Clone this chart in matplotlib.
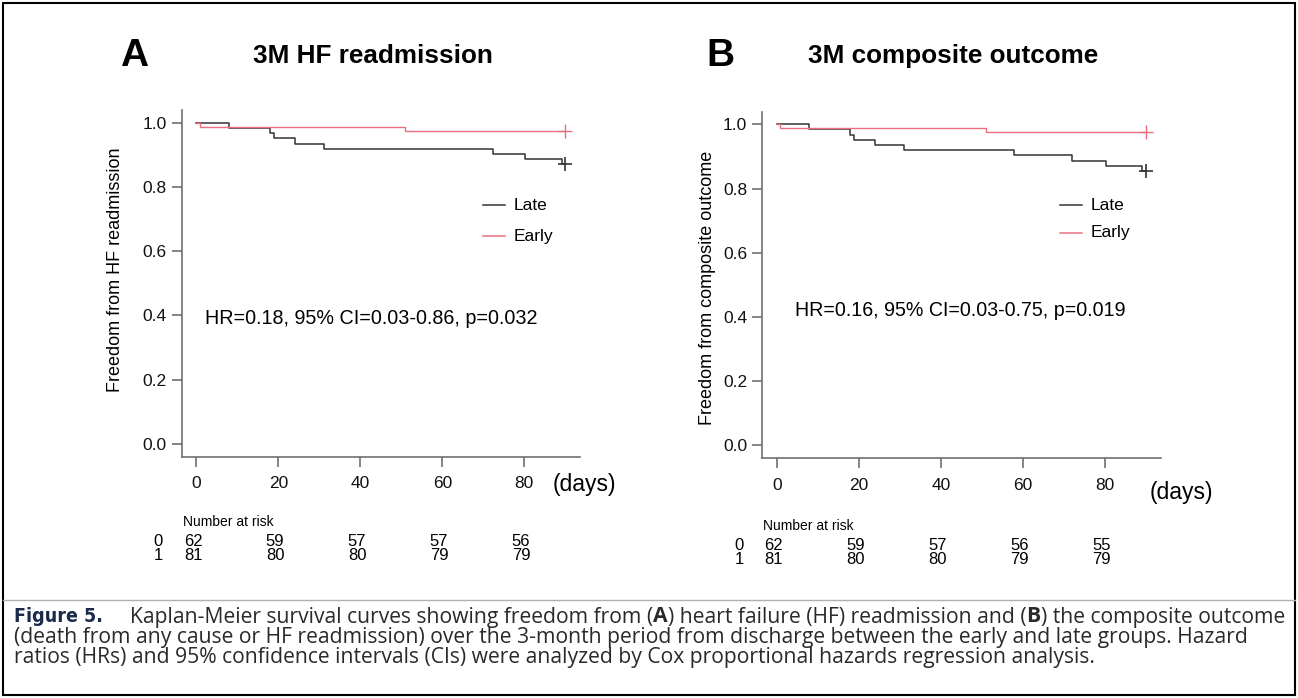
import matplotlib
matplotlib.use('Agg')
import matplotlib.pyplot as plt
from matplotlib.lines import Line2D
from matplotlib.patches import Rectangle
import matplotlib.transforms as mtransforms

plt.rcParams['font.family'] = ['Liberation Sans', 'DejaVu Sans']

# ---- data ----
a_late_t = [0, 8.0, 17.9, 18.9, 24.0, 31.1, 72.3, 80.2, 89.1, 90]
a_late_s = [1.0, 0.984, 0.968, 0.952, 0.935, 0.919, 0.903, 0.887, 0.871, 0.871]
a_early_t = [0, 0.8, 51.0, 90]
a_early_s = [1.0, 0.988, 0.975, 0.975]

b_late_t = [0, 7.8, 17.8, 18.7, 23.9, 30.9, 57.9, 72.1, 80.3, 89.1, 90]
b_late_s = [1.0, 0.984, 0.968, 0.952, 0.935, 0.919, 0.903, 0.887, 0.871, 0.855, 0.855]
b_early_t = [0, 0.8, 50.9, 90]
b_early_s = [1.0, 0.988, 0.975, 0.975]

risk_days = [0, 20, 40, 60, 80]
a_risk_late = [62, 59, 57, 57, 56]
a_risk_early = [81, 80, 80, 79, 79]
b_risk_late = [62, 59, 57, 56, 55]
b_risk_early = [81, 80, 80, 79, 79]

x_ticks = [0, 20, 40, 60, 80]
y_ticks = [0.0, 0.2, 0.4, 0.6, 0.8, 1.0]

W, H = 1298, 698
LATE = '#333333'
EARLY = '#e8707e'
AXC = '#707070'

fig = plt.figure(figsize=(W / 100, H / 100), dpi=100)


def fx(px):
    return px / W


def fy(py):
    return 1 - py / H


def km_panel(left, axis_y, late_t, late_s, early_t, early_s):
    ax = fig.add_axes([fx(left), fy(axis_y), 398.3 / W, 346.8 / H])
    ax.step(late_t, late_s, where='post', color=LATE, lw=1.1)
    ax.step(early_t, early_s, where='post', color=EARLY, lw=1.0)
    ax.plot(late_t[-1], late_s[-1], marker='+', ms=10, mew=1.2, color=LATE)
    ax.plot(early_t[-1], early_s[-1], marker='+', ms=10, mew=1.0, color=EARLY)
    ax.set_xlim(-3.6, 93.6)
    ax.set_ylim(-0.04, 1.04)
    ax.set_xticks(x_ticks)
    ax.set_yticks(y_ticks)
    ax.set_yticklabels([f'{v:.1f}' for v in y_ticks])
    for s in ['top', 'right']:
        ax.spines[s].set_visible(False)
    for s in ['left', 'bottom']:
        ax.spines[s].set_color(AXC)
        ax.spines[s].set_linewidth(1.2)
    ax.tick_params(axis='both', colors=AXC, labelcolor='#111111',
                   length=7, width=1.2, labelsize=12.5)
    ax.tick_params(axis='x', pad=7)
    ax.tick_params(axis='y', pad=4)
    return ax


axA = km_panel(181.7, 456.7, a_late_t, a_late_s, a_early_t, a_early_s)
axB = km_panel(762.3, 458.3, b_late_t, b_late_s, b_early_t, b_early_s)

# panel letters and titles
fig.text(fx(134), fy(56), 'A', fontsize=28, weight='bold', ha='center', va='center')
fig.text(fx(373), fy(56), '3M HF readmission', fontsize=18.8, weight='bold', ha='center', va='center')
fig.text(fx(720), fy(56), 'B', fontsize=28, weight='bold', ha='center', va='center')
fig.text(fx(953), fy(56), '3M composite outcome', fontsize=18.8, weight='bold', ha='center', va='center')

# y labels
fig.text(fx(116), fy(270), 'Freedom from HF readmission', rotation=90, fontsize=13,
         ha='center', va='center')
fig.text(fx(708), fy(288), 'Freedom from composite outcome', rotation=90, fontsize=13,
         ha='center', va='center')

# (days)
fig.text(fx(553), fy(485), '(days)', fontsize=16.5, ha='left', va='center')
fig.text(fx(1150), fy(492), '(days)', fontsize=16.5, ha='left', va='center')

# legends
for ax, ly in [(axA, (205, 236)), (axB, (205, 233))]:
    x0 = 483 if ax is axA else 1060
    for name, col, yy in [('Late', LATE, ly[0]), ('Early', EARLY, ly[1])]:
        fig.add_artist(Line2D([fx(x0), fx(x0 + 22)], [fy(yy), fy(yy)], color=col, lw=1.1))
        fig.text(fx(x0 + 31), fy(yy), name, fontsize=12.5, ha='left', va='center')

# HR annotations
fig.text(fx(205), fy(318), 'HR=0.18, 95% CI=0.03-0.86, p=0.032', fontsize=14.2,
         ha='left', va='center')
fig.text(fx(795), fy(310), 'HR=0.16, 95% CI=0.03-0.75, p=0.019', fontsize=14.1,
         ha='left', va='center')

# number at risk tables
narrow = ['Liberation Sans Narrow', 'Liberation Sans']
for ax, late, early, dy in [(axA, a_risk_late, a_risk_early, 0), (axB, b_risk_late, b_risk_early, 4)]:
    trans = mtransforms.blended_transform_factory(ax.transData, fig.transFigure)
    left = ax.get_position().x0
    fig.text(left + fx(1), fy(522 + dy), 'Number at risk', fontsize=10, family=narrow,
             ha='left', va='center')
    fig.text(left - fx(28), fy(541 + dy), '0', fontsize=12, family=narrow, ha='left', va='center')
    fig.text(left - fx(28), fy(555 + dy), '1', fontsize=12, family=narrow, ha='left', va='center')
    for d, n0, n1 in zip(risk_days, late, early):
        ax.text(d - 0.8, fy(541 + dy), str(n0), transform=trans, fontsize=12, family=narrow,
                ha='center', va='center')
        ax.text(d - 0.8, fy(555 + dy), str(n1), transform=trans, fontsize=12, family=narrow,
                ha='center', va='center')

# frame and separator
fig.add_artist(Rectangle((fx(3), fy(695)), fx(1292), 692 / H, fill=False,
                         edgecolor='black', lw=1.5, transform=fig.transFigure))
fig.add_artist(Line2D([fx(3), fx(1295)], [fy(600), fy(600)], color='#b0b0b0', lw=1.0))

# caption with mixed weights
renderer = fig.canvas.get_renderer()
cap_font = ['Open Sans', 'Liberation Sans']


def runs(x, y, parts, size=15.2, color='#2a2a2a'):
    for s, bold in parts:
        t = fig.text(x, y, s, fontsize=size, weight='bold' if bold else 'normal',
                     family=cap_font, color=color, ha='left', va='center')
        bb = t.get_window_extent(renderer)
        x = bb.x1 / fig.bbox.width


fig.text(fx(14), fy(617), 'Figure 5.', fontsize=14, weight='bold', color='#1b2a4a',
         family='DejaVu Sans', fontstretch='condensed', ha='left', va='center')
runs(fx(130), fy(617), [('Kaplan-Meier survival curves showing freedom from (', False),
                        ('A', True), (') heart failure (HF) readmission and (', False),
                        ('B', True), (') the composite outcome', False)])
runs(fx(14), fy(637), [('(death from any cause or HF readmission) over the 3-month period from '
                        'discharge between the early and late groups. Hazard', False)])
runs(fx(14), fy(657), [('ratios (HRs) and 95% confidence intervals (CIs) were analyzed by Cox '
                        'proportional hazards regression analysis.', False)])

fig.savefig('out.png', dpi=100)
